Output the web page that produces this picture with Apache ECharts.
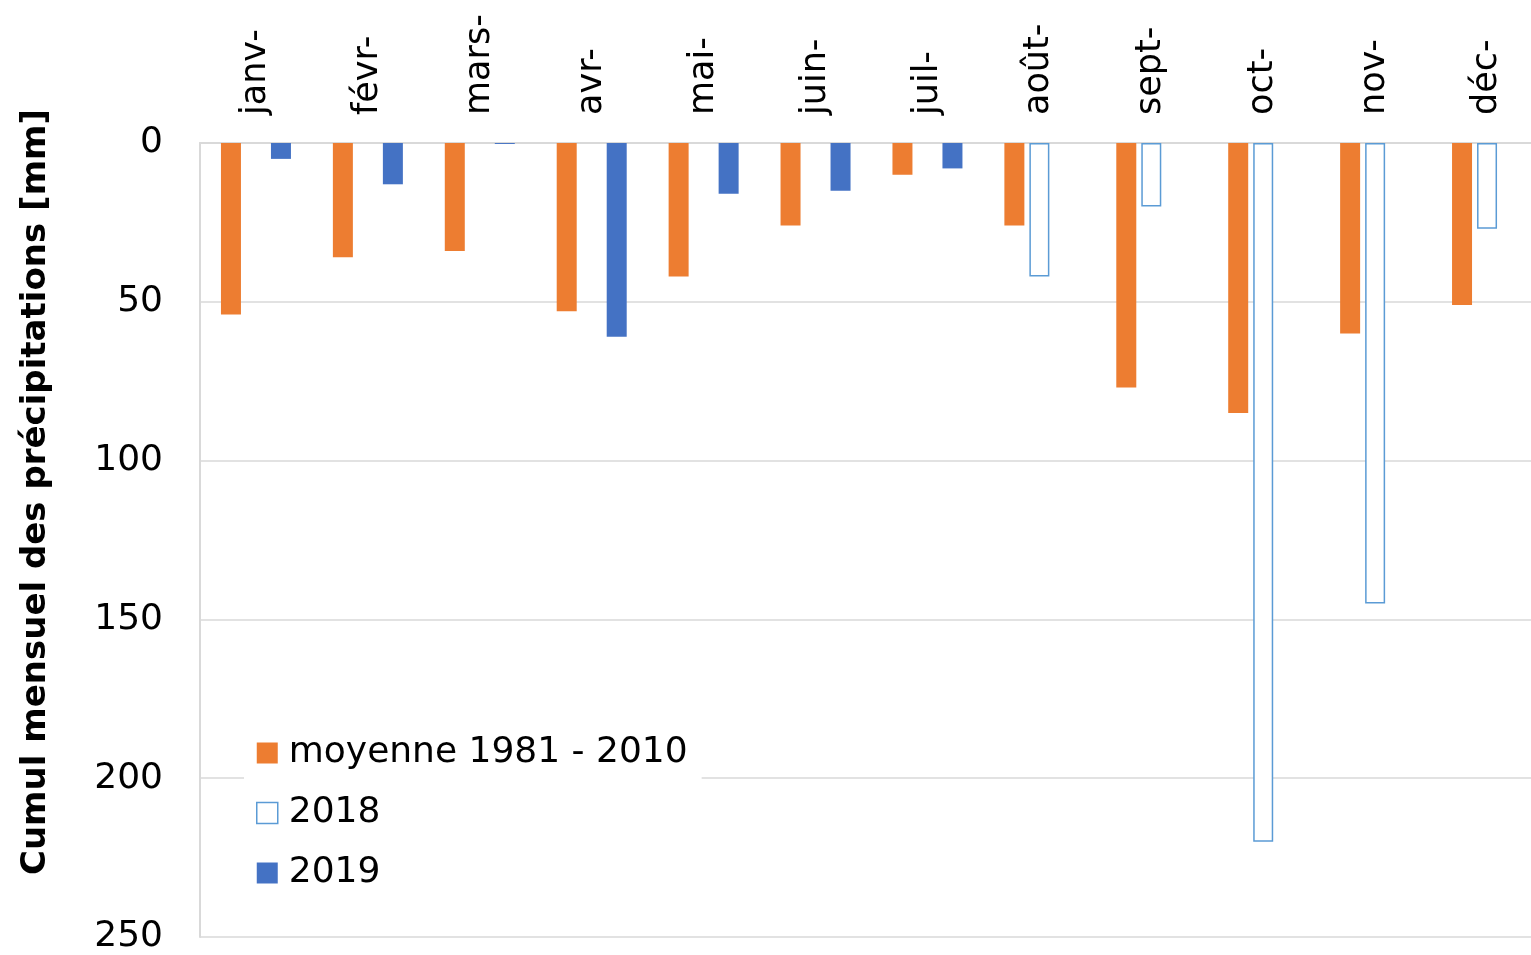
<!DOCTYPE html>
<html><head><meta charset="utf-8">
<script src="https://cdn.jsdelivr.net/npm/echarts@6/dist/echarts.min.js"></script>
<style>html,body{margin:0;padding:0;background:#fff;overflow:hidden}#c{width:1531px;height:955px}</style>
</head><body><div id="c"></div>
<script>
const categories = ['janv-','févr-','mars-','avr-','mai-','juin-','juil-','août-','sept-','oct-','nov-','déc-'];
const moyenne = [54, 36, 34, 53, 42, 26, 10, 26, 77, 85, 60, 51];
const y2018 = ['-','-','-','-','-','-','-', 42, 20, 220, 145, 27];
const y2019 = [5, 13, 0.3, 61, 16, 15, 8, '-','-','-','-','-'];
const yTicks = [0, 50, 100, 150, 200, 250];
const yTitle = 'Cumul mensuel des précipitations [mm]';

const FONT = '"DejaVu Sans", sans-serif';
const chart = echarts.init(document.getElementById('c'));
chart.setOption({
  animation: false,
  textStyle: {fontFamily: FONT},
  grid: {left: 200, width: 1343, top: 143, height: 794, outerBoundsMode: 'none', containLabel: false},
  graphic: [{
    type: 'text', x: 36, y: 492, rotation: Math.PI / 2,
    style: {text: yTitle, font: 'bold 34px "DejaVu Sans", sans-serif', fill: '#000',
            textAlign: 'center', textVerticalAlign: 'middle'}
  }],
  legend: {
    orient: 'vertical', left: 244, top: 731,
    itemWidth: 21, itemHeight: 21, itemGap: 24,
    backgroundColor: '#fff', padding: [4, 14, 4, 12],
    textStyle: {fontSize: 36, color: '#000', fontFamily: FONT, padding: [0, 0, 0, 6]},
    data: [
      {name: 'moyenne 1981 - 2010', icon: 'rect'},
      {name: '2018', icon: 'rect', itemStyle: {color: '#fff', borderColor: '#5B9BD5', borderWidth: 1.5}},
      {name: '2019', icon: 'rect'}
    ]
  },
  xAxis: {
    type: 'category', position: 'top', data: categories,
    axisLine: {show: true, lineStyle: {color: '#d9d9d9', width: 2}},
    axisTick: {show: false},
    axisLabel: {rotate: 90, fontSize: 35, color: '#000', margin: 28, fontFamily: FONT}
  },
  yAxis: {
    type: 'value', inverse: true, min: 0, max: 250, interval: 50,
    axisLine: {show: true, lineStyle: {color: '#d9d9d9', width: 2}},
    axisTick: {show: false},
    splitLine: {lineStyle: {color: '#d9d9d9', width: 1.5}},
    axisLabel: {fontSize: 36, color: '#000', margin: 37, fontFamily: FONT,
      formatter: v => yTicks.includes(v) ? String(v) : ''}
  },
  series: [
    {name: 'moyenne 1981 - 2010', type: 'bar', data: moyenne, barWidth: 20, barGap: '25%',
     itemStyle: {color: '#ED7D31'}},
    {name: '2018', type: 'bar', data: y2018, barWidth: 20, barGap: '25%',
     itemStyle: {color: '#fff', borderColor: '#5B9BD5', borderWidth: 1.5}},
    {name: '2019', type: 'bar', data: y2019, barWidth: 20, barGap: '25%',
     itemStyle: {color: '#4472C4'}}
  ]
});
</script></body></html>
